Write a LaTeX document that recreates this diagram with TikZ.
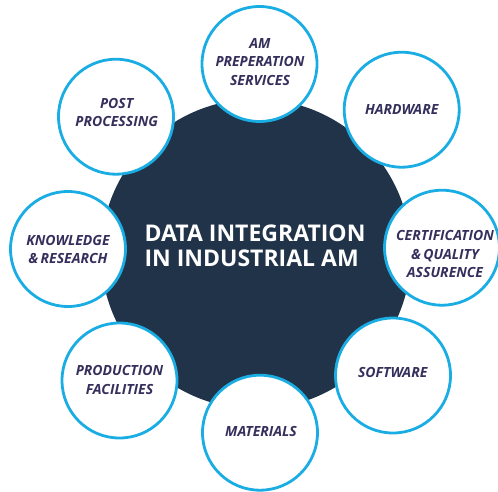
\documentclass[tikz,border=0pt]{standalone}
\usepackage{fontspec}
\setmainfont{Open Sans}
\definecolor{darkc}{HTML}{203348}
\definecolor{cyanc}{HTML}{1AADE4}
\definecolor{txtc}{HTML}{352F5C}
\begin{document}
\begin{tikzpicture}[x=1pt,y=-1pt,
  sat/.style={circle,draw=cyanc,line width=2.8pt,fill=white,minimum size=115pt,inner sep=0pt},
  lab/.style={align=center,text=txtc,inner sep=0pt,font=\fontsize{14}{18.5}\selectfont\bfseries\itshape},
  hub/.style={circle,fill=darkc,minimum size=310pt,inner sep=0pt},
  hubtext/.style={align=left,text=white,inner sep=0pt,font=\fontsize{23}{25}\selectfont\bfseries}]
\useasboundingbox (0,0) rectangle (498,492);
\fill[white] (0,0) rectangle (498,492);
\node[hub] (hub) at (256,254) {};
\node[hubtext] (title) at (255,246) {DATA INTEGRATION\\IN INDUSTRIAL AM};
% satellites
\node[sat] (prep) at (259.5,64) {};
\node[sat] (hard) at (401.7,109.7) {};
\node[sat] (cert) at (442,247.7) {};
\node[sat] (soft) at (393,375.5) {};
\node[sat] (mat) at (260,432.7) {};
\node[sat] (prod) at (119.5,380.5) {};
\node[sat] (know) at (68,249) {};
\node[sat] (post) at (116,116.7) {};
% labels
\node[lab] (lprep) at (260,62) {AM\\PREPERATION\\SERVICES};
\node[lab] (lhard) at (401.7,109) {HARDWARE};
\node[lab] (lcert) at (445,254) {CERTIFICATION\\\&\,QUALITY\\ASSURENCE};
\node[lab] (lsoft) at (392.7,372) {SOFTWARE};
\node[lab] (lmat) at (261,431) {MATERIALS};
\node[lab] (lprod) at (119.5,380) {PRODUCTION\\FACILITIES};
\node[lab] (lknow) at (68,249.5) {KNOWLEDGE\\\&\,RESEARCH};
\node[lab] (lpost) at (116.7,112.5) {POST\\PROCESSING};
\end{tikzpicture}
\end{document}
